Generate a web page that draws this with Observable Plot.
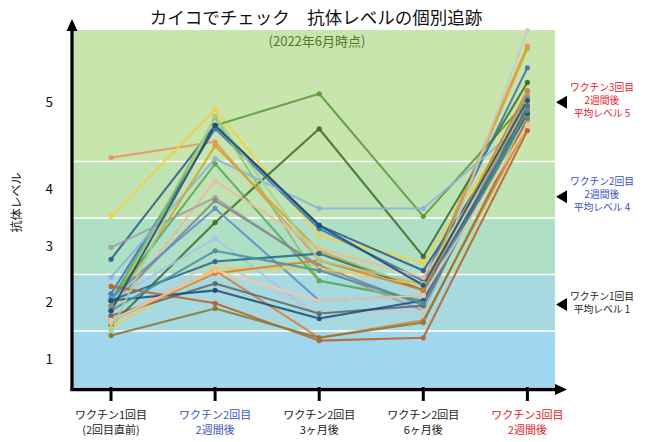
<!DOCTYPE html>
<html><head><meta charset="utf-8">
<script src="https://cdn.jsdelivr.net/npm/d3@7"></script>
<script src="https://cdn.jsdelivr.net/npm/@observablehq/plot@0.6"></script>
<style>
body{margin:0;background:#fff;font-family:"Noto Sans CJK JP","Noto Sans",sans-serif;}
#chart{position:relative;width:652px;height:442px;}
</style></head><body><div id="chart"></div>
<script>
// ---- data ----
const categories = ["ワクチン1回目\n(2回目直前)","ワクチン2回目\n2週間後","ワクチン2回目\n3ヶ月後","ワクチン2回目\n6ヶ月後","ワクチン3回目\n2週間後"];
const categoryColors = ["#222222","#3d55c4","#222222","#222222","#e3222b"];
const yTickValues = [1, 2, 3, 4, 5.55];
const yTickLabels = ["1", "2", "3", "4", "5"];
const bandEdges = [0.5, 1.5, 2.5, 3.5, 4.5, 6.82];
const bandColors = ["#a0d6ee", "#a7dae0", "#afdfc5", "#c0e3b4", "#c8e5ad"];

const lineColors = [
  "#e59866","#f4d03f","#5d9b3a","#3d7028","#2e5f8a","#3a78b5","#8cc46a","#8ab4dc",
  "#d4a52a","#5aa85a","#f0b89a","#a0a0a0","#888888","#5b8fc9","#a6c4e4","#c8c8c8",
  "#2d6a8a","#f0c850","#b8632e","#e07b39","#606870","#1f4e79","#8a7a30","#d9822b",
  "#4a90a0","#f5c9a8","#a8d08d","#264d73"
];
const s01 = [4.57, 4.85, 2.75, 2.31, 6.55];
const s02 = [3.53, 5.42, 3.19, 2.71, 5.49];
const s03 = [2.04, 5.14, 5.70, 3.53, 5.58];
const s04 = [1.60, 3.42, 5.08, 2.82, 5.90];
const s05 = [2.77, 5.14, 3.37, 2.57, 5.40];
const s06 = [2.16, 5.08, 3.31, 2.39, 6.16];
const s07 = [1.95, 5.28, 2.39, 2.04, 5.67];
const s08 = [2.45, 4.55, 3.67, 3.67, 5.23];
const s09 = [1.86, 4.78, 2.92, 2.22, 6.50];
const s10 = [2.04, 4.46, 2.39, 2.04, 5.31];
const s11 = [1.77, 4.16, 2.96, 2.45, 5.26];
const s12 = [2.98, 3.86, 2.62, 1.86, 5.72];
const s13 = [1.95, 3.81, 2.66, 1.95, 5.63];
const s14 = [2.09, 3.67, 2.04, 2.13, 5.44];
const s15 = [2.04, 3.14, 1.74, 2.04, 5.37];
const s16 = [1.65, 2.75, 1.81, 1.86, 6.82];
const s17 = [2.04, 2.73, 2.87, 2.22, 5.35];
const s18 = [1.56, 2.61, 2.61, 2.31, 5.54];
const s19 = [2.29, 1.99, 1.33, 1.38, 5.05];
const s20 = [1.69, 2.57, 1.38, 1.69, 5.14];
const s21 = [1.77, 2.34, 1.81, 1.95, 5.49];
const s22 = [2.04, 2.22, 1.72, 2.04, 5.37];
const s23 = [1.42, 1.90, 1.38, 1.65, 5.26];
const s24 = [1.69, 2.52, 2.75, 2.22, 5.76];
const s25 = [1.86, 2.92, 2.57, 1.99, 5.40];
const s26 = [1.69, 2.57, 2.04, 2.13, 5.14];
const s27 = [1.51, 5.31, 2.75, 2.34, 5.58];
const s28 = [1.86, 5.14, 3.37, 2.31, 5.58];
const series = [s01,s02,s03,s04,s05,s06,s07,s08,s09,s10,s11,s12,s13,s14,s15,s16,s17,s18,s19,s20,s21,s22,s23,s24,s25,s26,s27,s28];

const annotations = [
  {lines:["ワクチン3回目","2週間後","平均レベル 5"], color:"#e3222b", level:5.54},
  {lines:["ワクチン2回目","2週間後","平均レベル 4"], color:"#3550c0", level:3.87},
  {lines:["ワクチン1回目","平均レベル 1"], color:"#222222", level:1.96}
];

// ---- tables ----
const bands = bandColors.map((c, i) => ({y1: bandEdges[i], y2: bandEdges[i + 1], fill: c}));
const rows = [];
series.forEach((vals, k) => vals.forEach((v, i) => rows.push({id: k, x: i, y: v, color: lineColors[k]})));

const plot = Plot.plot({
  width: 652, height: 442,
  marginLeft: 72, marginRight: 97, marginTop: 30, marginBottom: 55,
  style: {fontFamily: '"Noto Sans CJK JP", sans-serif', background: "white"},
  x: {type: "linear", domain: [-0.37, 4.27], label: null},
  y: {type: "linear", domain: [bandEdges[0], bandEdges[5]], axis: null, label: null},
  color: {type: "identity"},
  marks: [
    Plot.rect(bands, {y1: "y1", y2: "y2", fill: "fill"}),
    Plot.ruleY(bandEdges.slice(1, 5), {stroke: "white", strokeWidth: 1.6}),
    Plot.line(rows, {x: "x", y: "y", z: "id", stroke: "color", strokeWidth: 2.1, strokeOpacity: 0.88}),
    Plot.dot(rows, {x: "x", y: "y", fill: "color", r: 2.6, fillOpacity: 0.95}),
    Plot.axisX({ticks: d3.range(categories.length), tickSize: 14, strokeWidth: 3, stroke: "#000", tickFormat: () => "", label: null}),
    Plot.text(categories, {x: (d, i) => i, frameAnchor: "bottom", lineAnchor: "middle", dy: 34, text: d => d, fill: (d, i) => categoryColors[i], fontSize: 11, lineHeight: 1.34}),
    Plot.text(yTickLabels, {y: (d, i) => yTickValues[i], frameAnchor: "left", dx: -27, text: d => d, fontSize: 13.5, fill: "#111"})
  ]
});

const svg = d3.select(plot);
const xs = plot.scale("x"), ys = plot.scale("y");
const x0 = xs.apply(xs.domain[0]), x1 = xs.apply(xs.domain[1]);
const yb = ys.apply(ys.domain[0]), yt = ys.apply(ys.domain[1]);

// axes with arrow heads
svg.append("line").attr("x1", x0).attr("x2", x0).attr("y1", yb + 4).attr("y2", yt - 4).attr("stroke", "#000").attr("stroke-width", 3.2);
svg.append("path").attr("d", `M${x0},${yt - 11}L${x0 - 5.5},${yt + 1}L${x0 + 5.5},${yt + 1}Z`).attr("fill", "#000");
svg.append("line").attr("x1", x0 - 1.5).attr("x2", x1 + 1).attr("y1", yb + 2.5).attr("y2", yb + 2.5).attr("stroke", "#000").attr("stroke-width", 3.5);
svg.append("path").attr("d", `M${x1 + 12},${yb + 2.5}L${x1},${yb - 3}L${x1},${yb + 8}Z`).attr("fill", "#000");

// y axis title
svg.append("text").attr("transform", `translate(18,${(yb + yt) / 2 - 6}) rotate(-90)`).attr("text-anchor", "middle").attr("dominant-baseline", "middle").attr("font-size", 12).attr("fill", "#111").text("抗体レベル");

// title & subtitle
svg.append("text").attr("x", 316).attr("y", 19).attr("text-anchor", "middle").attr("dominant-baseline", "middle").attr("font-size", 17.5).attr("fill", "#111").text("カイコでチェック　抗体レベルの個別追跡");
svg.append("text").attr("x", 317).attr("y", 42).attr("text-anchor", "middle").attr("dominant-baseline", "middle").attr("font-size", 13).attr("fill", "#4f7a28").text("(2022年6月時点)");

// right annotations
annotations.forEach(a => {
  const cy = ys.apply(a.level);
  svg.append("path").attr("d", `M${x1 + 1},${cy}L${x1 + 12},${cy - 6.5}L${x1 + 12},${cy + 6.5}Z`).attr("fill", "#000");
  const n = a.lines.length;
  a.lines.forEach((t, j) => {
    svg.append("text").attr("x", 602).attr("y", cy + (j - (n - 1) / 2) * 12.8 - 1).attr("text-anchor", "middle").attr("dominant-baseline", "middle").attr("font-size", 9.8).attr("fill", a.color).text(t);
  });
});

document.getElementById("chart").appendChild(plot);
</script></body></html>
